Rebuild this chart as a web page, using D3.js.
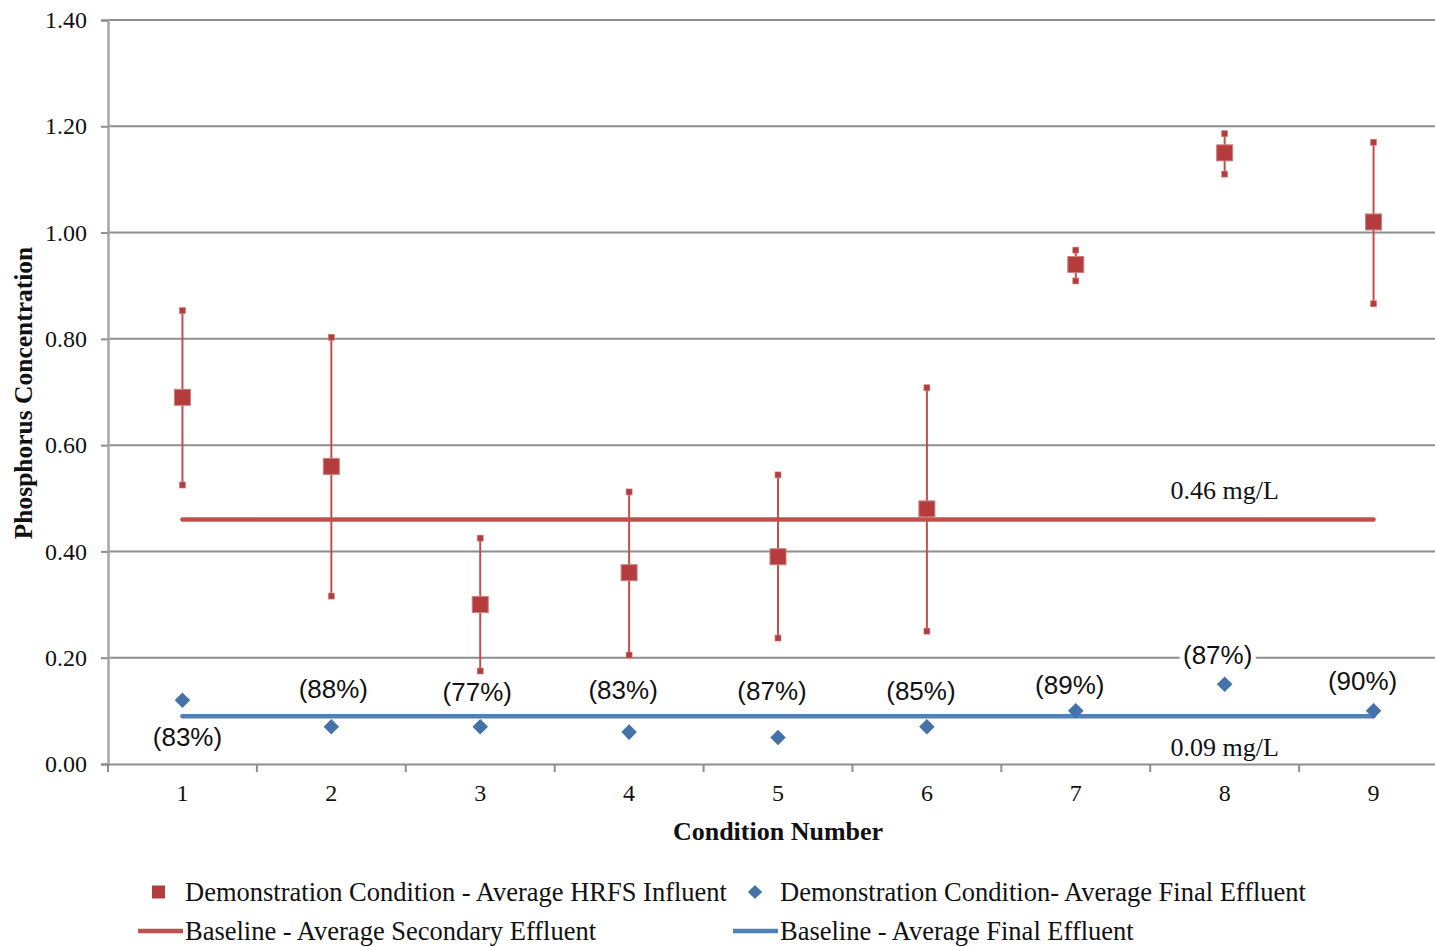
<!DOCTYPE html>
<html>
<head>
<meta charset="utf-8">
<script src="https://cdnjs.cloudflare.com/ajax/libs/d3/7.8.5/d3.min.js"></script>
<style>
  html, body { margin: 0; padding: 0; background: #fff; overflow: hidden; }
  svg { display: block; }
</style>
</head>
<body>
<svg id="chart" width="1435" height="947"></svg>
<script>
// Condition numbers along the x axis
const conditions = [1, 2, 3, 4, 5, 6, 7, 8, 9];

// Demonstration condition – average HRFS influent (mg/L) with min/max range
const influentAvg = [0.69, 0.56, 0.30, 0.36, 0.39, 0.48, 0.94, 1.15, 1.02];
const influentLow = [0.525, 0.316, 0.175, 0.205, 0.237, 0.25, 0.909, 1.11, 0.866];
const influentHigh = [0.853, 0.803, 0.425, 0.512, 0.544, 0.708, 0.967, 1.186, 1.17];

// Demonstration condition – average final effluent (mg/L)
const effluentAvg = [0.12, 0.07, 0.07, 0.06, 0.05, 0.07, 0.10, 0.15, 0.10];

// Removal percentages shown next to the effluent points
const removalLabels = ["(83%)", "(88%)", "(77%)", "(83%)", "(87%)", "(85%)", "(89%)", "(87%)", "(90%)"];

// Baseline averages (mg/L)
const baselineSecondary = 0.46;
const baselineFinal = 0.09;

// Y axis ticks
const yTicks = [0, 0.2, 0.4, 0.6, 0.8, 1.0, 1.2, 1.4];

// Legend entries
const legendLabels = [
  "Demonstration Condition - Average HRFS Influent",
  "Demonstration Condition- Average Final Effluent",
  "Baseline - Average Secondary Effluent",
  "Baseline - Average Final Effluent"
];

// Label placement tweaks (pixel offsets from each effluent point)
const labelOffsets = [
  [5, 37], [2, -38], [-3, -35], [-6, -42], [-6, -46], [-6, -36], [-6, -26], [-7, -29], [-11, -30]
];

const RED = "#c0504d", RED_DARK = "#b43c3c", BLUE = "#4f81bd", BLUE_MARK = "#4572a7";
const GRID = "#8e8e8e", AXIS = "#a6a6a6";
const SERIF = "'Liberation Serif', 'DejaVu Serif', serif";
const SANS = "'Liberation Sans', Arial, sans-serif";

const svg = d3.select("#chart");
const margin = { left: 108, top: 20, bottom: 183 };
const plotW = 1340, H = 947;

const x = d3.scaleBand().domain(conditions).range([margin.left, margin.left + plotW]);
const cx = d => x(d) + x.bandwidth() / 2;
const y = d3.scaleLinear().domain([0, 1.4]).range([H - margin.bottom, margin.top]);

// Horizontal gridlines
svg.append("g")
  .selectAll("line")
  .data(yTicks.filter(t => t > 0))
  .join("line")
  .attr("x1", margin.left).attr("x2", margin.left + plotW)
  .attr("y1", d => y(d)).attr("y2", d => y(d))
  .attr("stroke", GRID).attr("stroke-width", 2);

// Y axis
const yAxis = svg.append("g")
  .attr("transform", `translate(${margin.left},0)`)
  .call(d3.axisLeft(y).tickValues(yTicks).tickFormat(d3.format(".2f")).tickSize(7).tickPadding(14));
yAxis.select(".domain").attr("stroke", AXIS).attr("stroke-width", 2.5);
yAxis.selectAll(".tick line").attr("stroke", GRID).attr("stroke-width", 2);
yAxis.selectAll(".tick text").attr("font-family", SERIF).attr("font-size", 24).attr("fill", "#111");

// X axis
const xAxis = svg.append("g")
  .attr("transform", `translate(0,${y(0)})`)
  .call(d3.axisBottom(x).tickSize(0).tickPadding(20));
xAxis.select(".domain").attr("stroke", GRID).attr("stroke-width", 2);
xAxis.selectAll(".tick text").attr("font-family", SERIF).attr("font-size", 24).attr("fill", "#111");
// Category boundary ticks
svg.append("g")
  .selectAll("line")
  .data(d3.range(conditions.length + 1))
  .join("line")
  .attr("x1", i => margin.left + i * x.bandwidth())
  .attr("x2", i => margin.left + i * x.bandwidth())
  .attr("y1", y(0)).attr("y2", y(0) + 8)
  .attr("stroke", GRID).attr("stroke-width", 2);

// Baseline lines
const baselines = [
  { v: baselineSecondary, c: RED, label: "0.46 mg/L", dy: -29 },
  { v: baselineFinal, c: BLUE, label: "0.09 mg/L", dy: 31 }
];
svg.append("g").selectAll("line")
  .data(baselines).join("line")
  .attr("x1", cx(conditions[0])).attr("x2", cx(conditions[conditions.length - 1]))
  .attr("y1", d => y(d.v)).attr("y2", d => y(d.v))
  .attr("stroke", d => d.c).attr("stroke-width", 4.5).attr("stroke-linecap", "round");
svg.append("g").selectAll("text")
  .data(baselines).join("text")
  .attr("x", cx(8)).attr("y", d => y(d.v) + d.dy)
  .attr("text-anchor", "middle").attr("dominant-baseline", "central")
  .attr("font-family", SERIF).attr("font-size", 26).attr("fill", "#111")
  .text(d => d.label);

// Error bars for the influent
const infl = conditions.map((c, i) => ({ c, avg: influentAvg[i], lo: influentLow[i], hi: influentHigh[i] }));
const eb = svg.append("g");
eb.selectAll("line").data(infl).join("line")
  .attr("x1", d => cx(d.c)).attr("x2", d => cx(d.c))
  .attr("y1", d => y(d.lo)).attr("y2", d => y(d.hi))
  .attr("stroke", RED).attr("stroke-width", 2);
eb.selectAll("rect.cap").data(infl.flatMap(d => [{ c: d.c, v: d.lo }, { c: d.c, v: d.hi }])).join("rect")
  .attr("class", "cap")
  .attr("x", d => cx(d.c) - 3).attr("y", d => y(d.v) - 3)
  .attr("width", 6).attr("height", 6)
  .attr("fill", RED_DARK).attr("stroke", "#d08080").attr("stroke-width", 0.6);

// Influent squares
svg.append("g").selectAll("rect").data(infl).join("rect")
  .attr("x", d => cx(d.c) - 8).attr("y", d => y(d.avg) - 8)
  .attr("width", 16).attr("height", 16)
  .attr("fill", RED_DARK).attr("stroke", "#c98080").attr("stroke-width", 1);

// Effluent diamonds
const eff = conditions.map((c, i) => ({ c, v: effluentAvg[i], label: removalLabels[i], off: labelOffsets[i] }));
svg.append("g").selectAll("path").data(eff).join("path")
  .attr("transform", d => `translate(${cx(d.c)},${y(d.v)}) rotate(45)`)
  .attr("d", "M-5.5,-5.5H5.5V5.5H-5.5Z")
  .attr("fill", BLUE_MARK);

// Removal percentage labels
const lbl = svg.append("g").selectAll("g").data(eff).join("g")
  .attr("transform", d => `translate(${cx(d.c) + d.off[0]},${y(d.v) + d.off[1]})`);
lbl.filter(d => d.c === 8).append("rect")
  .attr("x", -38).attr("y", -16).attr("width", 76).attr("height", 32).attr("fill", "#fff");
lbl.append("text")
  .attr("text-anchor", "middle").attr("dominant-baseline", "central")
  .attr("font-family", SANS).attr("font-size", 26).attr("fill", "#111")
  .text(d => d.label);

// Axis titles
svg.append("text")
  .attr("transform", `translate(23,${(y(0) + y(1.4)) / 2 + 1}) rotate(-90)`)
  .attr("text-anchor", "middle").attr("dominant-baseline", "central")
  .attr("font-family", SERIF).attr("font-weight", "bold").attr("font-size", 25.5).attr("fill", "#111")
  .text("Phosphorus Concentration");
svg.append("text")
  .attr("x", cx(5)).attr("y", 831)
  .attr("text-anchor", "middle").attr("dominant-baseline", "central")
  .attr("font-family", SERIF).attr("font-weight", "bold").attr("font-size", 26).attr("fill", "#111")
  .text("Condition Number");

// Legend
const leg = svg.append("g").attr("font-family", SERIF).attr("font-size", 26.5).attr("fill", "#111");
const legendItems = [
  { x: 185, y: 892, type: "square", color: RED_DARK, text: legendLabels[0] },
  { x: 780, y: 892, type: "diamond", color: BLUE_MARK, text: legendLabels[1] },
  { x: 185, y: 931, type: "line", color: RED, text: legendLabels[2] },
  { x: 780, y: 931, type: "line", color: BLUE, text: legendLabels[3] }
];
legendItems.forEach(it => {
  const g = leg.append("g").attr("transform", `translate(${it.x},${it.y})`);
  if (it.type === "square") {
    g.append("rect").attr("x", -33).attr("y", -6.5).attr("width", 13).attr("height", 13).attr("fill", it.color);
  } else if (it.type === "diamond") {
    g.append("path").attr("transform", "translate(-25,0) rotate(45)").attr("d", "M-5,-5H5V5H-5Z").attr("fill", it.color);
  } else {
    g.append("line").attr("x1", -47).attr("x2", -2).attr("y1", 0).attr("y2", 0)
      .attr("stroke", it.color).attr("stroke-width", 4.5);
  }
  g.append("text").attr("x", 0).attr("y", 0).attr("dominant-baseline", "central").text(it.text);
});
</script>
</body>
</html>
